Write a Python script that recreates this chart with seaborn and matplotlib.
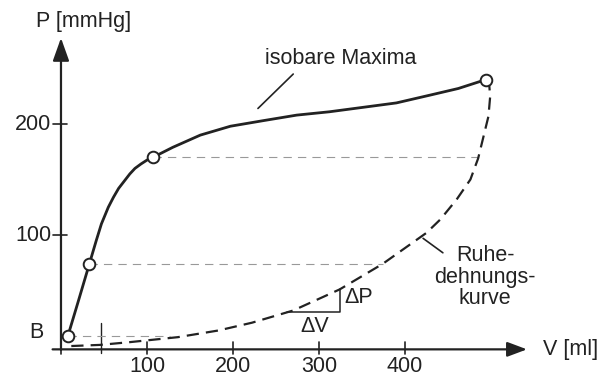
import matplotlib
matplotlib.use("Agg")
import matplotlib.pyplot as plt
import seaborn as sns

# isobare Maxima (solid curve), V [ml] / P [mmHg]
max_V = [8, 20, 33, 41, 47, 55, 61, 67, 73, 80, 86, 93, 100, 107, 130, 162, 197, 235, 274, 312, 351, 390, 429, 462, 494]
max_P = [9, 40, 74, 95, 110, 125, 134, 142, 148, 155, 160, 164, 167.5, 170, 179, 190, 198, 203, 208, 211, 215, 219, 226, 232, 240]

# Ruhedehnungskurve (dashed curve)
rest_V = [12, 45, 80, 136, 183, 222, 270, 324, 374, 425, 441, 460, 476, 485, 491, 497, 499, 498, 494]
rest_P = [0, 1, 3.5, 8, 14, 21, 32, 51, 74, 102, 114, 132, 150, 169, 188, 207, 225, 234, 240]

# marked points on the maxima curve
pt_V = [8, 33, 107, 494]
pt_P = [9, 74, 170, 240]

# horizontal helper lines: level, start, end
level_P = [170, 74, 9]
level_V0 = [107, 33, 8]
level_V1 = [485, 374, 127]

x_ticks = [100, 200, 300, 400]
y_ticks = [100, 200]

INK = "#222222"

sns.set_style("white")
plt.rcParams["font.family"] = ["Liberation Sans", "DejaVu Sans"]
FS = 15.5

fig = plt.figure(figsize=(6.02, 3.77), dpi=100)
ax = fig.add_axes([0, 0, 1, 1])
ax.set_xlim(-70.9, 629)
ax.set_ylim(-27.9, 311.7)
ax.axis("off")

# axes with arrows
ax.annotate("", xy=(545, -3), xytext=(-13, -3),
            arrowprops=dict(arrowstyle="-|>,head_length=1.2,head_width=0.45", color=INK, lw=1.6))
ax.annotate("", xy=(0, 280), xytext=(0, -6),
            arrowprops=dict(arrowstyle="-|>,head_length=1.4,head_width=0.5", color=INK, lw=1.6))

# ticks
for v in x_ticks + [0]:
    ax.plot([v, v], [3.6, -7], color=INK, lw=1.2)
for p in y_ticks:
    ax.plot([-9, 7], [p, p], color=INK, lw=1.2)
ax.plot([46, 46], [20.7, -6], color=INK, lw=1.0)

for v in x_ticks:
    ax.text(v, -18, str(v), ha="center", va="center", fontsize=FS, color=INK)
for p in y_ticks:
    ax.text(-11, p, str(p), ha="right", va="center", fontsize=FS, color=INK)
ax.text(-29, 12, "B", ha="center", va="center", fontsize=FS, color=INK)
ax.text(26, 292, "P [mmHg]", ha="center", va="center", fontsize=FS, color=INK)
ax.text(560, -3, "V [ml]", ha="left", va="center", fontsize=FS, color=INK)

# helper dashed lines
for p, v0, v1 in zip(level_P, level_V0, level_V1):
    ax.plot([v0, v1], [p, p], color="#999999", lw=0.8, linestyle=(0, (7.5, 5.5)))

# curves
sns.lineplot(x=rest_V, y=rest_P, sort=False, estimator=None, ax=ax,
             color=INK, lw=1.6, linestyle=(0, (5.5, 3.2)))
sns.lineplot(x=max_V, y=max_P, sort=False, estimator=None, ax=ax, color=INK, lw=2.0)
sns.scatterplot(x=pt_V, y=pt_P, ax=ax, s=70, color="white", edgecolor=INK,
                linewidth=1.4, zorder=5)

# dV / dP triangle
ax.plot([263, 324, 324], [30.6, 30.6, 51.4], color=INK, lw=1.1)
ax.text(329, 44, "ΔP", ha="left", va="center", fontsize=FS, color=INK)
ax.text(295, 18, "ΔV", ha="center", va="center", fontsize=FS, color=INK)

# labels with pointer lines
ax.text(325, 259, "isobare Maxima", ha="center", va="center", fontsize=FS, color=INK)
ax.plot([229, 270], [214, 245], color=INK, lw=1.2)
ax.text(493, 62, "Ruhe-\ndehnungs-\nkurve", ha="center", va="center", fontsize=FS,
        color=INK, linespacing=1.05)
ax.plot([421, 444], [97, 84], color=INK, lw=1.2)

fig.savefig("out.png", dpi=100)
